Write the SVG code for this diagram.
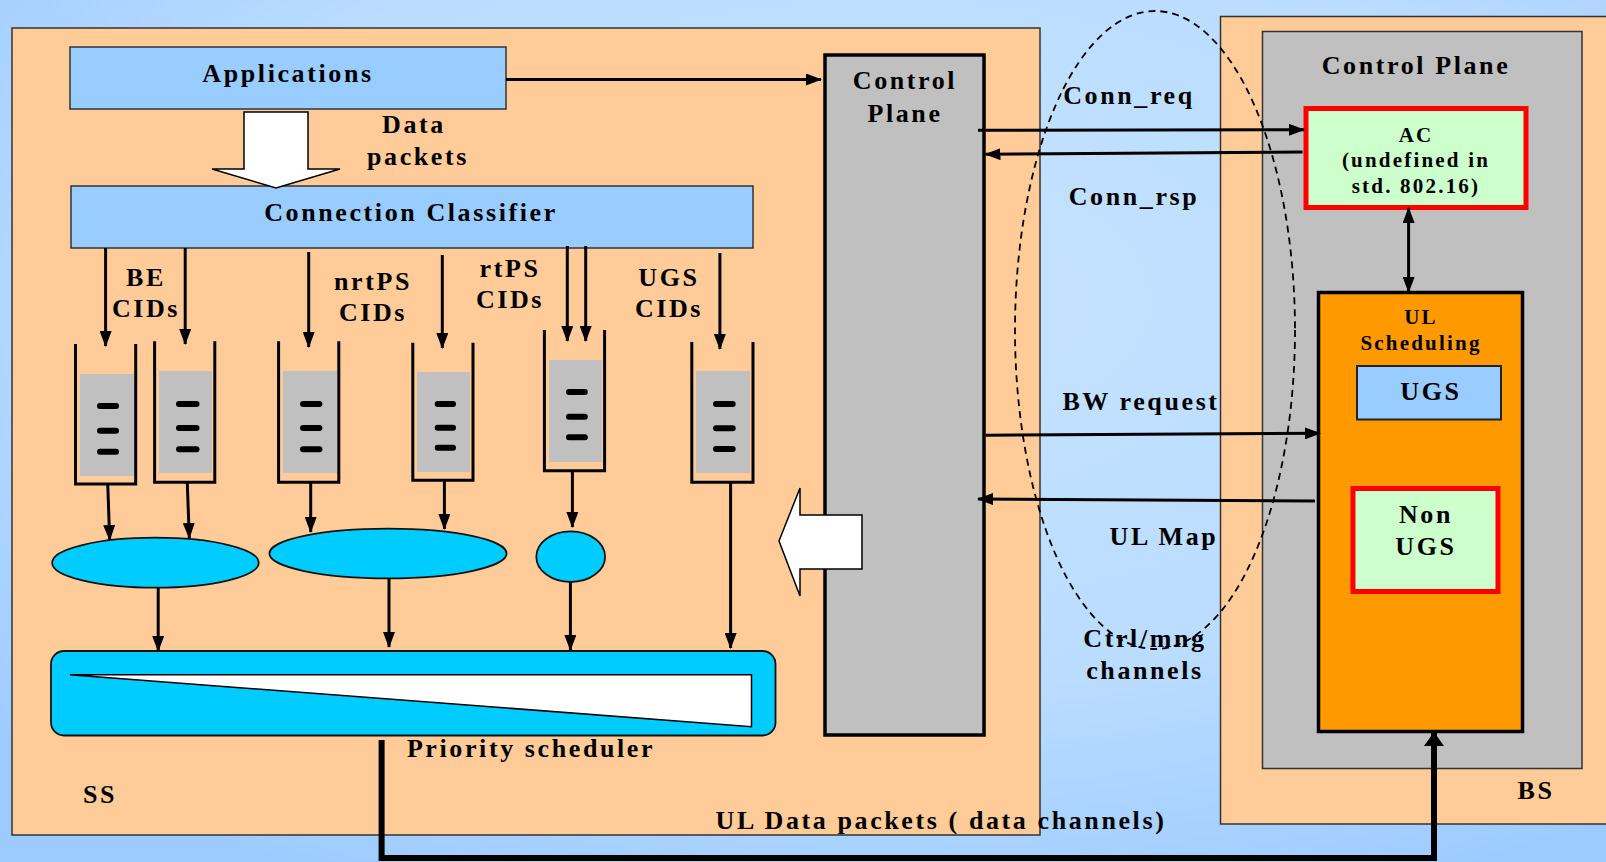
<svg xmlns="http://www.w3.org/2000/svg" width="1606" height="862" viewBox="0 0 1606 862">
<defs>
<radialGradient id="bg" cx="0.55" cy="0.35" r="0.75">
<stop offset="0" stop-color="#C6E3FF"/>
<stop offset="0.6" stop-color="#BADCFF"/>
<stop offset="1" stop-color="#9ECBFF"/>
</radialGradient>
<marker id="ah" viewBox="0 0 16 12" refX="15" refY="6" markerWidth="16" markerHeight="12" markerUnits="userSpaceOnUse" orient="auto-start-reverse"><path d="M0,0 L16,6 L0,12 z" fill="#000"/></marker>
<marker id="ahb" viewBox="0 0 14 20" refX="13" refY="10" markerWidth="14" markerHeight="20" markerUnits="userSpaceOnUse" orient="auto"><path d="M0,0 L14,10 L0,20 z" fill="#000"/></marker>
<style>
.t{font-family:"Liberation Serif","Times New Roman",serif;font-weight:bold;font-size:26px;letter-spacing:2.6px;text-anchor:middle;fill:#000}
.s{font-size:21px;letter-spacing:2.2px}
.box{stroke:#333;stroke-width:1.5}
.q{fill:none;stroke:#000;stroke-width:3}
.qf{fill:#C0C0C0}
.d{stroke:#000;stroke-width:6;stroke-linecap:round}
.c{fill:none;stroke:#000;stroke-width:3;marker-end:url(#ah)}
.el{fill:#00CCFF;stroke:#111;stroke-width:1.8}
.wa{fill:#fff;stroke:#000;stroke-width:1.5}
</style>
</defs>
<rect width="1606" height="862" fill="url(#bg)"/>

<g id="ss">
<rect class="box" x="12" y="28" width="1028" height="807" fill="#FFCC99"/>
</g>
<g id="bs">
<rect class="box" x="1220.5" y="16.5" width="400" height="807.5" fill="#FFCC99"/>
</g>
<g id="bs-control-plane">
<rect class="box" x="1262.5" y="31.5" width="319.5" height="737" fill="#C0C0C0"/>
</g>

<g id="applications">
<rect class="box" x="70" y="47" width="436" height="62" fill="#99CCFF"/>
</g>
<g id="classifier">
<rect class="box" x="71" y="186" width="682" height="62" fill="#99CCFF"/>
</g>
<g id="ss-control-plane">
<rect x="825" y="55" width="159" height="680" fill="#C0C0C0" stroke="#000" stroke-width="3.5"/>
</g>
<g id="ac">
<rect x="1306" y="108.5" width="220" height="99" fill="#CCFFCC" stroke="#FF0000" stroke-width="5"/>
</g>
<g id="ul-scheduling">
<rect x="1318.5" y="292.5" width="204" height="439" fill="#FF9900" stroke="#000" stroke-width="3.5"/>
</g>
<g id="ugs-box">
<rect x="1357" y="366" width="144" height="53.5" fill="#99CCFF" stroke="#222" stroke-width="2"/>
</g>
<g id="nonugs-box">
<rect x="1353" y="488.5" width="145" height="103" fill="#CCFFCC" stroke="#FF0000" stroke-width="5"/>
</g>

<g id="queue1">
<rect class="qf" x="80" y="374" width="54" height="102"/>
<path class="q" d="M75.5,344 V484 H135.7 V344"/>
<line class="d" x1="100" y1="406" x2="116" y2="406"/><line class="d" x1="100" y1="430.7" x2="116" y2="430.7"/><line class="d" x1="100" y1="451.7" x2="116" y2="451.7"/>
</g>
<g id="queue2">
<rect class="qf" x="159" y="371" width="53" height="102"/>
<path class="q" d="M154.6,341.3 V482.3 H214.8 V341.3"/>
<line class="d" x1="179" y1="404" x2="196.5" y2="404"/><line class="d" x1="179" y1="428" x2="196.5" y2="428"/><line class="d" x1="179" y1="449.3" x2="196.5" y2="449.3"/>
</g>
<g id="queue3">
<rect class="qf" x="283" y="371" width="54" height="102"/>
<path class="q" d="M278.6,341.3 V482.3 H338.8 V341.3"/>
<line class="d" x1="303" y1="404" x2="319.4" y2="404"/><line class="d" x1="303" y1="428" x2="319.4" y2="428"/><line class="d" x1="303" y1="449.3" x2="319.4" y2="449.3"/>
</g>
<g id="queue4">
<rect class="qf" x="417" y="372" width="53" height="100"/>
<path class="q" d="M412.8,342.7 V480.3 H473 V342.7"/>
<line class="d" x1="437.7" y1="404" x2="453" y2="404"/><line class="d" x1="437.7" y1="427.7" x2="453" y2="427.7"/><line class="d" x1="437.7" y1="447.7" x2="453" y2="447.7"/>
</g>
<g id="queue5">
<rect class="qf" x="549" y="360" width="53" height="102"/>
<path class="q" d="M544.4,330 V470.7 H604.6 V330"/>
<line class="d" x1="569" y1="392" x2="584.8" y2="392"/><line class="d" x1="569" y1="416.7" x2="584.8" y2="416.7"/><line class="d" x1="569" y1="437.3" x2="584.8" y2="437.3"/>
</g>
<g id="queue6">
<rect class="qf" x="696" y="371" width="54" height="102"/>
<path class="q" d="M691.8,342 V482.3 H753 V342"/>
<line class="d" x1="716" y1="404" x2="732.7" y2="404"/><line class="d" x1="716" y1="428.3" x2="732.7" y2="428.3"/><line class="d" x1="716" y1="449" x2="732.7" y2="449"/>
</g>

<g id="be-merge"><ellipse class="el" cx="155.4" cy="562.7" rx="103.3" ry="25"/></g>
<g id="nrtps-merge"><ellipse class="el" cx="388" cy="553.5" rx="118.6" ry="24.8"/></g>
<g id="rtps-merge"><ellipse class="el" cx="570.7" cy="556.7" rx="34.4" ry="25.3"/></g>

<g id="priority-scheduler">
<rect x="51" y="651" width="724.5" height="84.5" rx="13" fill="#00CCFF" stroke="#111" stroke-width="1.8"/>
<polygon points="69.9,674.7 751.5,674.7 751.5,726.7" fill="#fff" stroke="#000" stroke-width="1.5"/>
</g>

<g id="connectors">
<line class="c" x1="506" y1="79.5" x2="821" y2="79.5"/>
<line class="c" x1="105.6" y1="248" x2="105.6" y2="346"/>
<line class="c" x1="185.2" y1="248" x2="185.2" y2="344"/>
<line class="c" x1="308.7" y1="252" x2="308.7" y2="347"/>
<line class="c" x1="442.3" y1="255" x2="442.3" y2="348"/>
<line class="c" x1="567.3" y1="246" x2="567.3" y2="341"/>
<line class="c" x1="585.7" y1="246" x2="585.7" y2="341"/>
<line class="c" x1="719.9" y1="253" x2="719.9" y2="349"/>
<line class="c" x1="107.7" y1="483" x2="109.7" y2="540"/>
<line class="c" x1="187.2" y1="481" x2="189.3" y2="538"/>
<line class="c" x1="310.7" y1="482" x2="310.7" y2="532"/>
<line class="c" x1="444.4" y1="480" x2="444.4" y2="529"/>
<line class="c" x1="572.4" y1="471" x2="572.4" y2="527"/>
<line class="c" x1="158.2" y1="588" x2="158.2" y2="651"/>
<line class="c" x1="389" y1="578" x2="389" y2="647"/>
<line class="c" x1="570.4" y1="582" x2="570.4" y2="650"/>
<line class="c" x1="730.6" y1="482" x2="730.6" y2="648"/>
<line class="c" x1="978" y1="130.3" x2="1304" y2="129.8"/>
<line class="c" x1="1302.6" y1="152" x2="985.5" y2="154.3"/>
<line class="c" x1="1408.6" y1="208" x2="1408.6" y2="292" marker-start="url(#ah)"/>
<line class="c" x1="985.5" y1="435.3" x2="1320" y2="433.3"/>
<line class="c" x1="1315" y1="501" x2="978" y2="499"/>
<path d="M381.6,740 V858 H1434 V733" fill="none" stroke="#000" stroke-width="6" marker-end="url(#ahb)"/>
</g>

<g id="data-packets-arrow">
<polygon class="wa" points="244,112 308,112 308,169 340,169 276,188 212,169 244,169"/>
</g>
<g id="ul-map-arrow">
<polygon class="wa" points="862,515 800,515 800,488 779,541 800,596 800,569 862,569"/>
</g>

<g id="ctrl-channels">
<ellipse cx="1155" cy="330" rx="140" ry="319" fill="none" stroke="#000" stroke-width="1.8" stroke-dasharray="7,5"/>
</g>

<g id="labels">
<text class="t" x="288" y="82">Applications</text>
<text class="t" x="414" y="133">Data</text>
<text class="t" x="418" y="165">packets</text>
<text class="t" x="411" y="221">Connection Classifier</text>
<text class="t" x="146" y="286">BE</text>
<text class="t" x="146" y="317">CIDs</text>
<text class="t" x="373" y="290">nrtPS</text>
<text class="t" x="373" y="321">CIDs</text>
<text class="t" x="510" y="277">rtPS</text>
<text class="t" x="510" y="308">CIDs</text>
<text class="t" x="669" y="286">UGS</text>
<text class="t" x="669" y="317">CIDs</text>
<text class="t" x="905" y="89">Control</text>
<text class="t" x="905" y="122">Plane</text>
<text class="t" x="1416" y="74">Control Plane</text>
<text class="t" x="1129" y="104">Conn_req</text>
<text class="t" x="1134" y="205">Conn_rsp</text>
<text class="t s" x="1416" y="142">AC</text>
<text class="t s" x="1416" y="167">(undefined in</text>
<text class="t s" x="1416" y="193">std. 802.16)</text>
<text class="t s" x="1421" y="324">UL</text>
<text class="t s" x="1421" y="350">Scheduling</text>
<text class="t" x="1141" y="410">BW request</text>
<text class="t" x="1164" y="545">UL Map</text>
<text class="t" x="1431" y="400">UGS</text>
<text class="t" x="1426" y="523">Non</text>
<text class="t" x="1426" y="555">UGS</text>
<text class="t" x="1145" y="647">Ctrl/mng</text>
<text class="t" x="1145" y="679">channels</text>
<text class="t" x="531" y="757">Priority scheduler</text>
<text class="t" x="100" y="803">SS</text>
<text class="t" x="941" y="829">UL Data packets ( data channels)</text>
<text class="t" x="1536" y="799">BS</text>
</g>
</svg>
